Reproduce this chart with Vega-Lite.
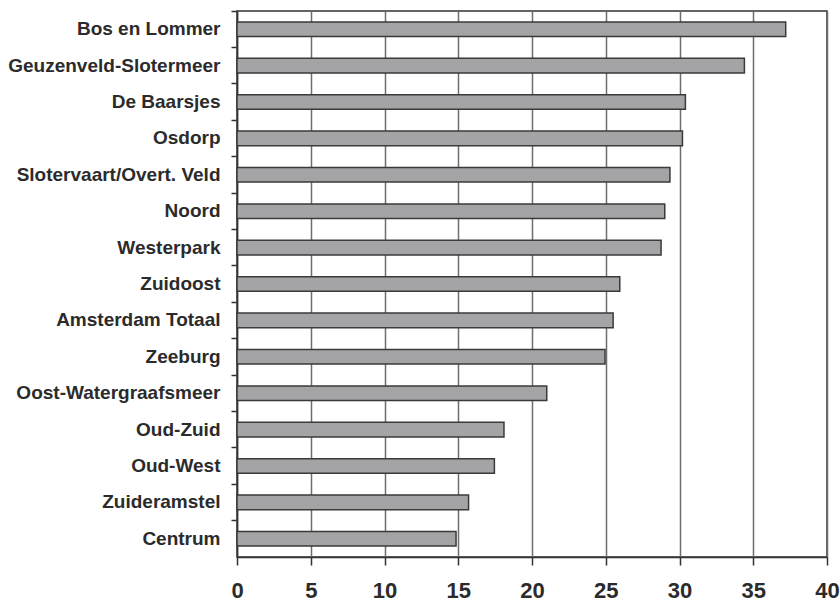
{
  "$schema": "https://vega.github.io/schema/vega-lite/v6.json",
  "width": 590,
  "height": 546,
  "autosize": "none",
  "padding": {"left": 237, "top": 11, "right": 13, "bottom": 46},
  "background": "white",
  "data": {
    "values": [
      {"stadsdeel": "Bos en Lommer", "waarde": 37.2},
      {"stadsdeel": "Geuzenveld-Slotermeer", "waarde": 34.4},
      {"stadsdeel": "De Baarsjes", "waarde": 30.4},
      {"stadsdeel": "Osdorp", "waarde": 30.2},
      {"stadsdeel": "Slotervaart/Overt. Veld", "waarde": 29.35},
      {"stadsdeel": "Noord", "waarde": 29.0},
      {"stadsdeel": "Westerpark", "waarde": 28.75},
      {"stadsdeel": "Zuidoost", "waarde": 25.95},
      {"stadsdeel": "Amsterdam Totaal", "waarde": 25.5},
      {"stadsdeel": "Zeeburg", "waarde": 24.95},
      {"stadsdeel": "Oost-Watergraafsmeer", "waarde": 21.0},
      {"stadsdeel": "Oud-Zuid", "waarde": 18.1},
      {"stadsdeel": "Oud-West", "waarde": 17.45},
      {"stadsdeel": "Zuideramstel", "waarde": 15.7},
      {"stadsdeel": "Centrum", "waarde": 14.85}
    ]
  },
  "config": {
    "view": {"stroke": "#333333", "strokeWidth": 1.5},
    "axis": {"domainColor": "#333333", "domainWidth": 1.5, "tickColor": "#333333", "tickWidth": 1.5}
  },
  "mark": {"type": "bar", "fill": "#a4a4a7", "stroke": "#3a3a3a", "strokeWidth": 1.5},
  "encoding": {
    "y": {
      "field": "stadsdeel",
      "type": "nominal",
      "sort": null,
      "scale": {"paddingInner": 0.6, "paddingOuter": 0.3},
      "axis": {
        "title": null,
        "bandPosition": -0.75,
        "tickSize": 6,
        "labelPadding": 11,
        "labelFont": "Liberation Sans",
        "labelFontWeight": "bold",
        "labelFontSize": 19,
        "labelColor": "#2b2b2b",
        "labelLimit": 300,
        "grid": false
      }
    },
    "x": {
      "field": "waarde",
      "type": "quantitative",
      "scale": {"domain": [0, 40], "nice": false},
      "axis": {
        "title": null,
        "values": [0, 5, 10, 15, 20, 25, 30, 35, 40],
        "grid": true,
        "gridColor": "#6e6e6e",
        "gridWidth": 1.5,
        "tickSize": 8,
        "labelPadding": 15,
        "labelFont": "Liberation Sans",
        "labelFontWeight": "bold",
        "labelFontSize": 22,
        "labelColor": "#2b2b2b",
        "labelFlush": false
      }
    }
  }
}
